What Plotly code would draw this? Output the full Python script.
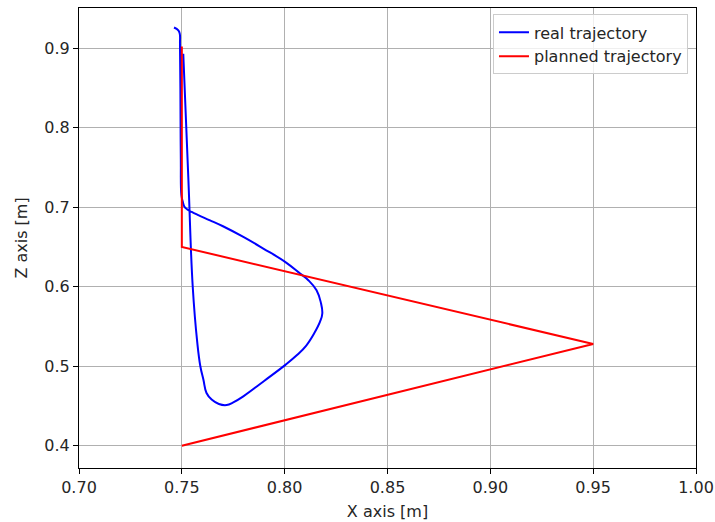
import plotly.graph_objects as go

# Real (measured) trajectory, X and Z in metres
real_x = [0.7507, 0.7532, 0.7553, 0.7575, 0.7590, 0.7605, 0.7620, 0.7645, 0.7680, 0.7718,
          0.7750, 0.7799, 0.7900, 0.8002, 0.8060, 0.8105, 0.8145, 0.8172, 0.8183, 0.8176,
          0.8155, 0.8115, 0.8075, 0.8002, 0.7896, 0.7799, 0.7700, 0.7637, 0.7580,
          0.7548, 0.7525, 0.7512, 0.7505, 0.7498, 0.7495, 0.7493, 0.7491, 0.7490, 0.7483,
          0.7462]
real_z = [0.893, 0.734, 0.600, 0.530, 0.500, 0.483, 0.4663, 0.458, 0.4525, 0.4512,
          0.4545, 0.4621, 0.4815, 0.5014, 0.5140, 0.5260, 0.5420, 0.5560, 0.5663, 0.5800,
          0.5956, 0.6082, 0.6166, 0.6313, 0.648, 0.6626, 0.6760, 0.6835, 0.6900,
          0.6940, 0.6975, 0.7010, 0.7066, 0.715, 0.760, 0.850, 0.905, 0.918, 0.9224,
          0.926]

# Planned trajectory
plan_x = [0.75, 0.95, 0.75, 0.75]
plan_z = [0.40, 0.528, 0.65, 0.902]

x_ticks = [0.70, 0.75, 0.80, 0.85, 0.90, 0.95, 1.00]
x_labels = ["0.70", "0.75", "0.80", "0.85", "0.90", "0.95", "1.00"]
z_ticks = [0.4, 0.5, 0.6, 0.7, 0.8, 0.9]
z_labels = ["0.4", "0.5", "0.6", "0.7", "0.8", "0.9"]

FONT = dict(family="DejaVu Sans", size=16, color="#262626")

fig = go.Figure()
fig.add_trace(go.Scatter(x=real_x, y=real_z, mode="lines", name="real trajectory",
                         line=dict(color="#0000ff", width=2, shape="spline", smoothing=1.2)))
fig.add_trace(go.Scatter(x=plan_x, y=plan_z, mode="lines", name="planned trajectory",
                         line=dict(color="#ff0000", width=2)))

axis_common = dict(showgrid=True, gridcolor="#b0b0b0", gridwidth=1,
                   showline=True, linecolor="black", linewidth=1, mirror=True,
                   ticks="outside", ticklen=5, tickcolor="black", zeroline=False,
                   automargin=False, tickfont=FONT)

fig.update_xaxes(range=[0.70, 1.00], tickvals=x_ticks, ticktext=x_labels,
                 title=dict(text="X axis [m]", font=FONT, standoff=9),
                 **axis_common)
fig.update_yaxes(range=[0.372, 0.9505], tickvals=z_ticks, ticktext=z_labels,
                 title=dict(text="Z axis [m]", font=FONT, standoff=12),
                 **axis_common)

fig.update_layout(
    width=715, height=522,
    margin=dict(l=79, r=19, t=7.5, b=54),
    plot_bgcolor="white", paper_bgcolor="white",
    font=FONT,
    showlegend=True,
    legend=dict(x=0.987, y=0.986, xanchor="right", yanchor="top",
                bgcolor="rgba(255,255,255,0.8)", bordercolor="#cccccc", borderwidth=1,
                font=FONT, tracegroupgap=0),
)

fig.write_html("out.html")
